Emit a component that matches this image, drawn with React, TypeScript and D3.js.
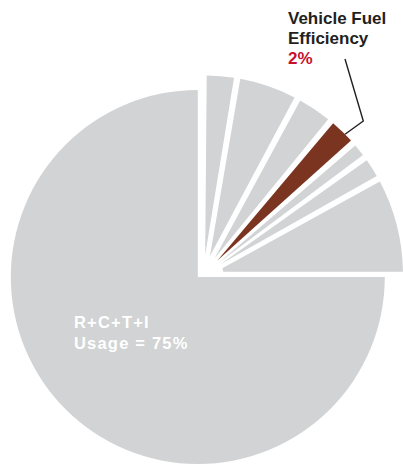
import React from "react";
import * as d3 from "d3";

// ---- data ----
const categories = [
  "Segment 1",
  "Segment 2",
  "Segment 3",
  "Vehicle Fuel Efficiency",
  "Segment 5",
  "Segment 6",
  "Segment 7",
  "R+C+T+I Usage",
];
const values = [2.7, 5.1, 3.2, 2.5, 1.5, 2.0, 8.0, 75];
const highlightCategory = "Vehicle Fuel Efficiency";
const mainCategory = "R+C+T+I Usage";
const calloutLines = ["Vehicle Fuel", "Efficiency"];
const calloutValue = "2%";
const mainLabelLines = ["R+C+T+I", "Usage = 75%"];

const W = 403;
const H = 464;

export default function App() {
  const pie = d3
    .pie<number>()
    .sort(null)
    .value((d) => d);
  const arcsData = pie(values);

  // small exploded wedges
  const smallC = [203.5, 274.9];
  const smallR = 199.5;
  const halfGap = 3.2;
  const innerR = 20;
  const smallArc = d3
    .arc<d3.PieArcDatum<number>>()
    .innerRadius(innerR)
    .outerRadius(smallR)
    .padRadius(smallR)
    .padAngle(2 * Math.asin(halfGap / smallR));

  // large slice
  const bigC = [197.8, 277];
  const bigR = 187;
  const bigArc = d3
    .arc<d3.PieArcDatum<number>>()
    .innerRadius(0)
    .outerRadius(bigR);

  const gray = "#d1d3d4";
  const brown = "#7a3420";
  const red = "#c8102e";

  const hi = arcsData[categories.indexOf(highlightCategory)];
  const aStart = hi.startAngle + 0.62 * (hi.endAngle - hi.startAngle);
  const lineStart = [
    smallC[0] + smallR * Math.sin(aStart),
    smallC[1] - smallR * Math.cos(aStart),
  ];
  const labelX = 288;
  const elbow = [363.3, 121];
  const lineTop = [345, 59];

  const font = "'Liberation Sans', Arial, Helvetica, sans-serif";

  return (
    <svg
      width={W}
      height={H}
      style={{ position: "absolute", left: 0, top: 0 }}
    >
      <rect x={0} y={0} width={W} height={H} fill="#ffffff" />
      {arcsData.map((d, i) => {
        const cat = categories[i];
        if (cat === mainCategory) {
          return (
            <path
              key={cat}
              d={bigArc(d) || ""}
              transform={`translate(${bigC[0]},${bigC[1]})`}
              fill={gray}
            />
          );
        }
        return (
          <path
            key={cat}
            d={smallArc(d) || ""}
            transform={`translate(${smallC[0]},${smallC[1]})`}
            fill={cat === highlightCategory ? brown : gray}
          />
        );
      })}
      <polyline
        points={`${lineStart[0]},${lineStart[1]} ${elbow[0]},${elbow[1]} ${lineTop[0]},${lineTop[1]}`}
        fill="none"
        stroke="#231f20"
        strokeWidth={1.4}
      />
      <g fontFamily={font} fontWeight="bold" fontSize={17}>
        {calloutLines.map((t, i) => (
          <text key={t} x={labelX} y={23.5 + i * 20} fill="#231f20">
            {t}
          </text>
        ))}
        <text x={labelX} y={63.5} fill={red}>
          {calloutValue}
        </text>
      </g>
      <g
        fontFamily={font}
        fontWeight="bold"
        fontSize={16.5}
        fill="#ffffff"
        style={{ letterSpacing: "1.2px" }}
      >
        {mainLabelLines.map((t, i) => (
          <text key={t} x={74} y={328.3 + i * 21}>
            {t}
          </text>
        ))}
      </g>
    </svg>
  );
}
